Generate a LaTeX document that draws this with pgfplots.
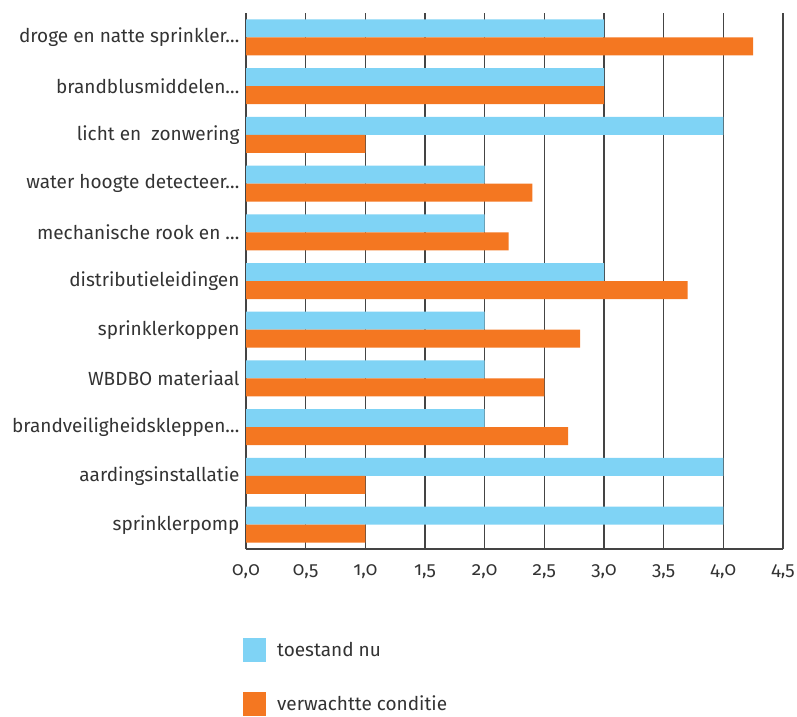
\documentclass[border=0pt]{standalone}
\usepackage{pgfplots}
\pgfplotsset{compat=1.18}
\usepackage{fontspec}
\setmainfont{Fira Sans}[Numbers=OldStyle]
\definecolor{cblue}{HTML}{7FD3F5}
\definecolor{corange}{HTML}{F47721}
\definecolor{ctext}{HTML}{333333}
\definecolor{cgrid}{HTML}{444444}
\newcommand{\dts}{\char"2026}
\begin{document}
\begin{tikzpicture}
\useasboundingbox (0pt,0pt) rectangle (797pt,716pt);
\begin{axis}[
  at={(246pt,167pt)}, anchor=south west,
  width=537pt, height=536pt, scale only axis,
  xbar, bar width=18pt,
  xmin=0, xmax=4.5, ymin=-0.5, ymax=10.5,
  xtick={0,0.5,1,1.5,2,2.5,3,3.5,4,4.5},
  xticklabels={{0,0},{0,5},{1,0},{1,5},{2,0},{2,5},{3,0},{3,5},{4,0},{4,5}},
  ytick={0,1,2,3,4,5,6,7,8,9,10},
  yticklabels={sprinklerpomp,aardingsinstallatie,{brandveiligheidskleppen\dts},WBDBO materiaal,sprinklerkoppen,distributieleidingen,{mechanische rook en \dts},{water hoogte detecteer\dts},licht en~ zonwering,{brandblusmiddelen\dts},{droge en natte sprinkler\dts}},
  axis x line*=bottom, axis y line*=left,
  axis line style={cgrid, line width=1.3pt, -},
  xmajorgrids, major grid style={cgrid, line width=1.2pt},
  major tick length=0pt,
  tick label style={font=\fontsize{19}{21}\selectfont, text=ctext},
  xticklabel style={yshift=-12pt},
  yticklabel style={xshift=-3pt},
  legend style={draw=none, fill=none, at={(axis description cs:0,0)}, anchor=north west,
    xshift=-3pt, yshift=-89pt, row sep=30pt, inner sep=0pt,
    font=\fontsize{19}{21}\selectfont, text=ctext,
    nodes={inner sep=0pt}, column sep=11pt},
  legend cell align=left,
]
\addplot[draw=none, fill=cblue, bar shift=9pt,
  legend image code/.code={\fill[cblue] (0pt,-12pt) rectangle (23pt,12pt);}]
  coordinates {(4,0) (4,1) (2,2) (2,3) (2,4) (3,5) (2,6) (2,7) (4,8) (3,9) (3,10)};
\addplot[draw=none, fill=corange, bar shift=-9pt,
  legend image code/.code={\fill[corange] (0pt,-12pt) rectangle (23pt,12pt);}]
  coordinates {(1,0) (1,1) (2.7,2) (2.5,3) (2.8,4) (3.7,5) (2.2,6) (2.4,7) (1,8) (3,9) (4.25,10)};
\legend{toestand nu, verwachtte conditie}
\end{axis}
\end{tikzpicture}
\end{document}
